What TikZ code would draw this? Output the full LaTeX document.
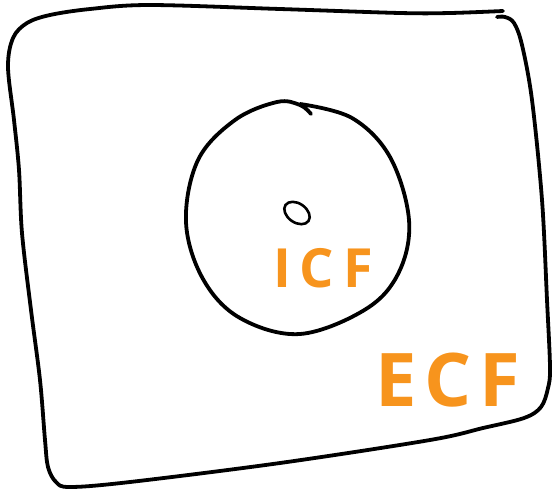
\documentclass[tikz,border=0pt]{standalone}
\usepackage{fontspec}
\setmainfont{Open Sans}
\definecolor{fillorange}{HTML}{F7941D}
\tikzset{
  sketch/.style={line width=3.8pt, line cap=round, line join=round, black},
  lettering/.style={text=fillorange, inner sep=0pt, font=\bfseries\fontsize{#1}{#1}\selectfont},
}
\begin{document}
\begin{tikzpicture}[x=1pt,y=-1pt]
\useasboundingbox (0,0) rectangle (553,491);
% outer hand-drawn box
\draw[sketch] plot[smooth, tension=0.55] coordinates {
  (503,11) (450,13) (400,13) (280,9) (150,5) (90,9) (50,15) (27,23) (13,38)
  (8,67) (14,120) (19,170) (22,233) (31,310) (40,380) (45,440) (48,467)
  (56,482) (70,487) (130,482) (280,463) (430,440) (483,428) (524,418)
  (541,407) (548,388) (550,367) (547,300) (542,200) (532,100) (522,45)
  (514,23) (505,17) (497,17)};
% inner cell
\draw[sketch] plot[smooth, tension=0.6] coordinates {
  (300,104) (352,118) (390,157) (409,220) (399,272) (366,309) (300,334)
  (240,318) (203,279) (186,222) (198,160) (235,120) (277,102) (300,105)
  (311,114)};
% nucleus
\draw[line width=2.6pt, rotate around={-35:(297,213)}] (297,213) ellipse (14 and 9.5);
% labels
\node[lettering=54] (icf) at (323,268) {I\,C\,F};
\node[lettering=74] (ecf) at (448,380) {E\hspace{8pt}C\hspace{8pt}F};
\end{tikzpicture}
\end{document}
